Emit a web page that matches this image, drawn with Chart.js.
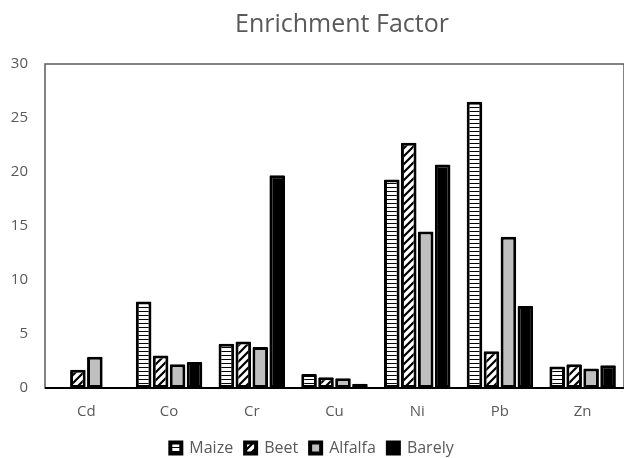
<!DOCTYPE html>
<html>
<head>
<meta charset="utf-8">
<script src="https://cdn.jsdelivr.net/npm/chart.js@4"></script>
<style>
    html, body { margin: 0; padding: 0; background: #fff; }
    #wrap { width: 624px; height: 458px; }
</style>
</head>
<body>
<div id="wrap"><canvas id="enrichChart"></canvas></div>
<script>
// Data
const elements = ["Cd", "Co", "Cr", "Cu", "Ni", "Pb", "Zn"];
const maize   = [0, 8.0, 4.1, 1.3, 19.3, 26.5, 2.0];
const beet    = [1.7, 3.0, 4.3, 1.0, 22.7, 3.4, 2.2];
const alfalfa = [2.9, 2.2, 3.8, 0.9, 14.5, 14.0, 1.8];
const barely  = [0, 2.4, 19.7, 0.4, 20.7, 7.6, 2.1];
const yTicks  = [0, 5, 10, 15, 20, 25, 30];

const textGray = "#595959";
const fontFamily = "'Open Sans', sans-serif";

// fill patterns
function hStripes() {
    const c = document.createElement("canvas");
    c.width = 4; c.height = 4;
    const g = c.getContext("2d");
    g.fillStyle = "#fff";
    g.fillRect(0, 0, 4, 4);
    g.fillStyle = "#000";
    g.fillRect(0, 3, 4, 1.3);
    return g.createPattern(c, "repeat");
}

function diagStripes() {
    const s = 8;
    const c = document.createElement("canvas");
    c.width = s; c.height = s;
    const g = c.getContext("2d");
    g.fillStyle = "#fff";
    g.fillRect(0, 0, s, s);
    g.strokeStyle = "#000";
    g.lineWidth = 2.2;
    g.beginPath();
    g.moveTo(0, s); g.lineTo(s, 0);
    g.moveTo(-2, 2); g.lineTo(2, -2);
    g.moveTo(s - 2, s + 2); g.lineTo(s + 2, s - 2);
    g.stroke();
    return g.createPattern(c, "repeat");
}

// plot frame + title over the plot area
const framePlugin = {
    id: "frame",
    beforeDatasetsDraw(chart) {
        const { ctx, chartArea: a } = chart;
        ctx.save();
        ctx.strokeStyle = "#595959";
        ctx.lineWidth = 1.5;
        ctx.strokeRect(a.left, a.top, a.right - a.left, a.bottom - a.top);
        ctx.restore();
    },
    afterDraw(chart) {
        const { ctx, chartArea: a } = chart;
        ctx.save();
        ctx.fillStyle = textGray;
        ctx.font = "25px " + fontFamily;
        ctx.textAlign = "center";
        ctx.textBaseline = "middle";
        ctx.fillText("Enrichment Factor", 342, 25);
        // black x axis line
        ctx.strokeStyle = "#000";
        ctx.lineWidth = 2;
        ctx.beginPath();
        ctx.moveTo(a.left, a.bottom);
        ctx.lineTo(a.right, a.bottom);
        ctx.stroke();
        ctx.restore();
    }
};

function makeSet(label, data, fill) {
    return {
        label: label,
        data: data,
        backgroundColor: fill,
        borderColor: "#000",
        borderWidth: ctx => (ctx.raw === 0 ? 0 : 3),
        borderSkipped: false,
        borderRadius: 1,
        barPercentage: 0.92,
        categoryPercentage: 0.82
    };
}

const ctx = document.getElementById("enrichChart").getContext("2d");

new Chart(ctx, {
    type: "bar",
    data: {
        labels: elements,
        datasets: [
            makeSet("Maize", maize, hStripes()),
            makeSet("Beet", beet, diagStripes()),
            makeSet("Alfalfa", alfalfa, "#bfbfbf"),
            makeSet("Barely", barely, "#000")
        ]
    },
    options: {
        responsive: true,
        maintainAspectRatio: false,
        animation: false,
        layout: { padding: { top: 64, right: 0, left: 0, bottom: -8 } },
        plugins: {
            title: { display: false },
            tooltip: { enabled: false },
            legend: {
                position: "bottom",
                labels: {
                    color: textGray,
                    font: { family: fontFamily, size: 16 },
                    boxWidth: 11,
                    boxHeight: 11,
                    padding: 12,
                    generateLabels(chart) {
                        return chart.data.datasets.map((d, i) => ({
                            text: d.label,
                            fillStyle: d.backgroundColor,
                            strokeStyle: "#000",
                            lineWidth: 4,
                            fontColor: textGray,
                            datasetIndex: i,
                            hidden: false
                        }));
                    }
                }
            }
        },
        scales: {
            x: {
                grid: { display: false, drawTicks: false },
                border: { display: false },
                afterFit(scale) { scale.height = 40; },
                ticks: {
                    color: textGray,
                    font: { family: fontFamily, size: 15 },
                    padding: 15
                }
            },
            y: {
                min: 0,
                max: 30,
                afterBuildTicks(scale) {
                    scale.ticks = yTicks.map(v => ({ value: v }));
                },
                afterFit(scale) { scale.width = 45; },
                grid: { display: false, drawTicks: false },
                border: { display: false },
                ticks: {
                    color: textGray,
                    font: { family: fontFamily, size: 15 },
                    padding: 17
                }
            }
        }
    },
    plugins: [framePlugin]
});
</script>
</body>
</html>
